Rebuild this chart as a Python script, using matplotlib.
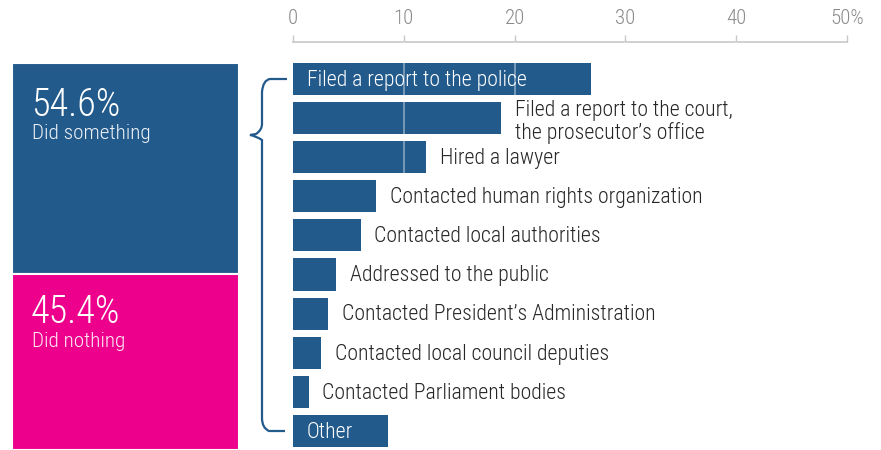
import matplotlib
matplotlib.use("Agg")
import matplotlib.pyplot as plt
from matplotlib import font_manager
from matplotlib.path import Path
from matplotlib.patches import PathPatch

# ---------------- data ----------------
categories = [
    "Filed a report to the police",
    "Filed a report to the court,\nthe prosecutor\u2019s office",
    "Hired a lawyer",
    "Contacted human rights organization",
    "Contacted local authorities",
    "Addressed to the public",
    "Contacted President\u2019s Administration",
    "Contacted local council deputies",
    "Contacted Parliament bodies",
    "Other",
]
values = [26.9, 18.8, 12.0, 7.5, 6.1, 3.9, 3.2, 2.5, 1.4, 8.6]
inside_label = [True, False, False, False, False, False, False, False, False, True]

share_labels = ["Did something", "Did nothing"]
share_values = [54.6, 45.4]

x_ticks = [0, 10, 20, 30, 40, 50]
x_tick_labels = ["0", "10", "20", "30", "40", "50%"]

BLUE = "#225a8c"
MAGENTA = "#ec008c"

# ---------------- fonts ----------------
names = {f.name for f in font_manager.fontManager.ttflist}
if "Roboto Condensed" in names:
    FAM = "Roboto Condensed"; scale = 1.0
else:
    FAM = "Roboto"; scale = 0.86
plt.rcParams["font.family"] = [FAM, "DejaVu Sans"]

W, H = 881, 450
fig = plt.figure(figsize=(W / 100, H / 100), dpi=100)

def fx(px):
    return px / W

def fy(py):
    return 1 - py / H

# ---------------- left stacked box ----------------
ax0 = fig.add_axes([fx(12), 0, fx(239) - fx(12), fy(63)])
ax0.set_xlim(0, 1)
ax0.set_ylim(0, 100)
ax0.axis("off")
bottoms = [share_values[1], 0]
colors0 = [BLUE, MAGENTA]
for v, b, c in zip(share_values, bottoms, colors0):
    ax0.bar(0.5, v, bottom=b, width=1.0, color=c, edgecolor="white", linewidth=1.5)

box_h_px = 450 - 63
offs = [(23, 61), (19, 58)]
for (o1, o2), v, b, lab in zip(offs, share_values, bottoms, share_labels):
    top = b + v
    ax0.text(19 / 227, top - o1 / box_h_px * 100, f"{v:.1f}%", color="white",
             fontsize=27.5 * scale, fontweight="light", va="top", ha="left")
    ax0.text(20 / 227, top - o2 / box_h_px * 100, lab, color="white",
             fontsize=15.3 * scale, fontweight="light", va="top", ha="left",
             alpha=0.92)

# ---------------- bar chart ----------------
y_top_idx = (42 - 79) / 39.1
y_bot_idx = (450 - 79) / 39.1
ax = fig.add_axes([fx(293), 0, fx(847) - fx(293), fy(42)])
ypos = list(range(len(categories)))
ax.barh(ypos, values, height=0.82, color=BLUE, zorder=2)
ax.set_xlim(0, 50)
ax.set_ylim(y_bot_idx, y_top_idx)

for xv in [10, 20, 30, 40]:
    ax.axvline(xv, color="white", alpha=0.45, linewidth=1.2, zorder=3)

ax.xaxis.tick_top()
ax.set_xticks(x_ticks)
ax.set_xticklabels(x_tick_labels)
ax.tick_params(axis="x", direction="out", length=5, width=1, color="#c8c8c8",
               labelcolor="#8a8a8a", labelsize=15 * scale, pad=5)
for lbl in ax.get_xticklabels():
    lbl.set_fontweight("light")
ax.set_yticks([])
for s in ["left", "right", "bottom"]:
    ax.spines[s].set_visible(False)
ax.spines["top"].set_color("#c8c8c8")
ax.spines["top"].set_linewidth(1.2)
ax.patch.set_alpha(0)

LBL = 15.7 * scale
for i, (cat, v, inside) in enumerate(zip(categories, values, inside_label)):
    multi = "\n" in cat
    dy = -3 if multi else -1
    if inside:
        ax.annotate(cat, xy=(0, i), xytext=(10, dy), textcoords="offset points",
                    va="center", ha="left", color="white", fontsize=LBL,
                    fontweight="light", zorder=4)
    else:
        ax.annotate(cat, xy=(v, i), xytext=(10, dy), textcoords="offset points",
                    va="center", ha="left", color="#262626", fontsize=LBL,
                    fontweight="light", linespacing=1.08, zorder=4)

# ---------------- brace ----------------
pts = [
    (287, 79), (270, 79), (263, 80), (262, 92),
    (262, 124), (262, 130), (256, 134), (250, 135),
    (256, 136), (262, 140), (262, 146),
    (262, 418), (262, 428), (269, 431), (285, 431),
]
verts = [(fx(x), fy(y)) for x, y in pts]
codes = [Path.MOVETO, Path.LINETO,
         Path.CURVE3, Path.CURVE3,
         Path.LINETO,
         Path.CURVE3, Path.CURVE3,
         Path.LINETO,
         Path.CURVE3, Path.CURVE3,
         Path.LINETO,
         Path.LINETO,
         Path.CURVE3, Path.CURVE3,
         Path.LINETO]
patch = PathPatch(Path(verts, codes), transform=fig.transFigure, fill=False,
                  edgecolor=BLUE, linewidth=1.6)
fig.patches.append(patch)

fig.savefig("out.png", dpi=100)
